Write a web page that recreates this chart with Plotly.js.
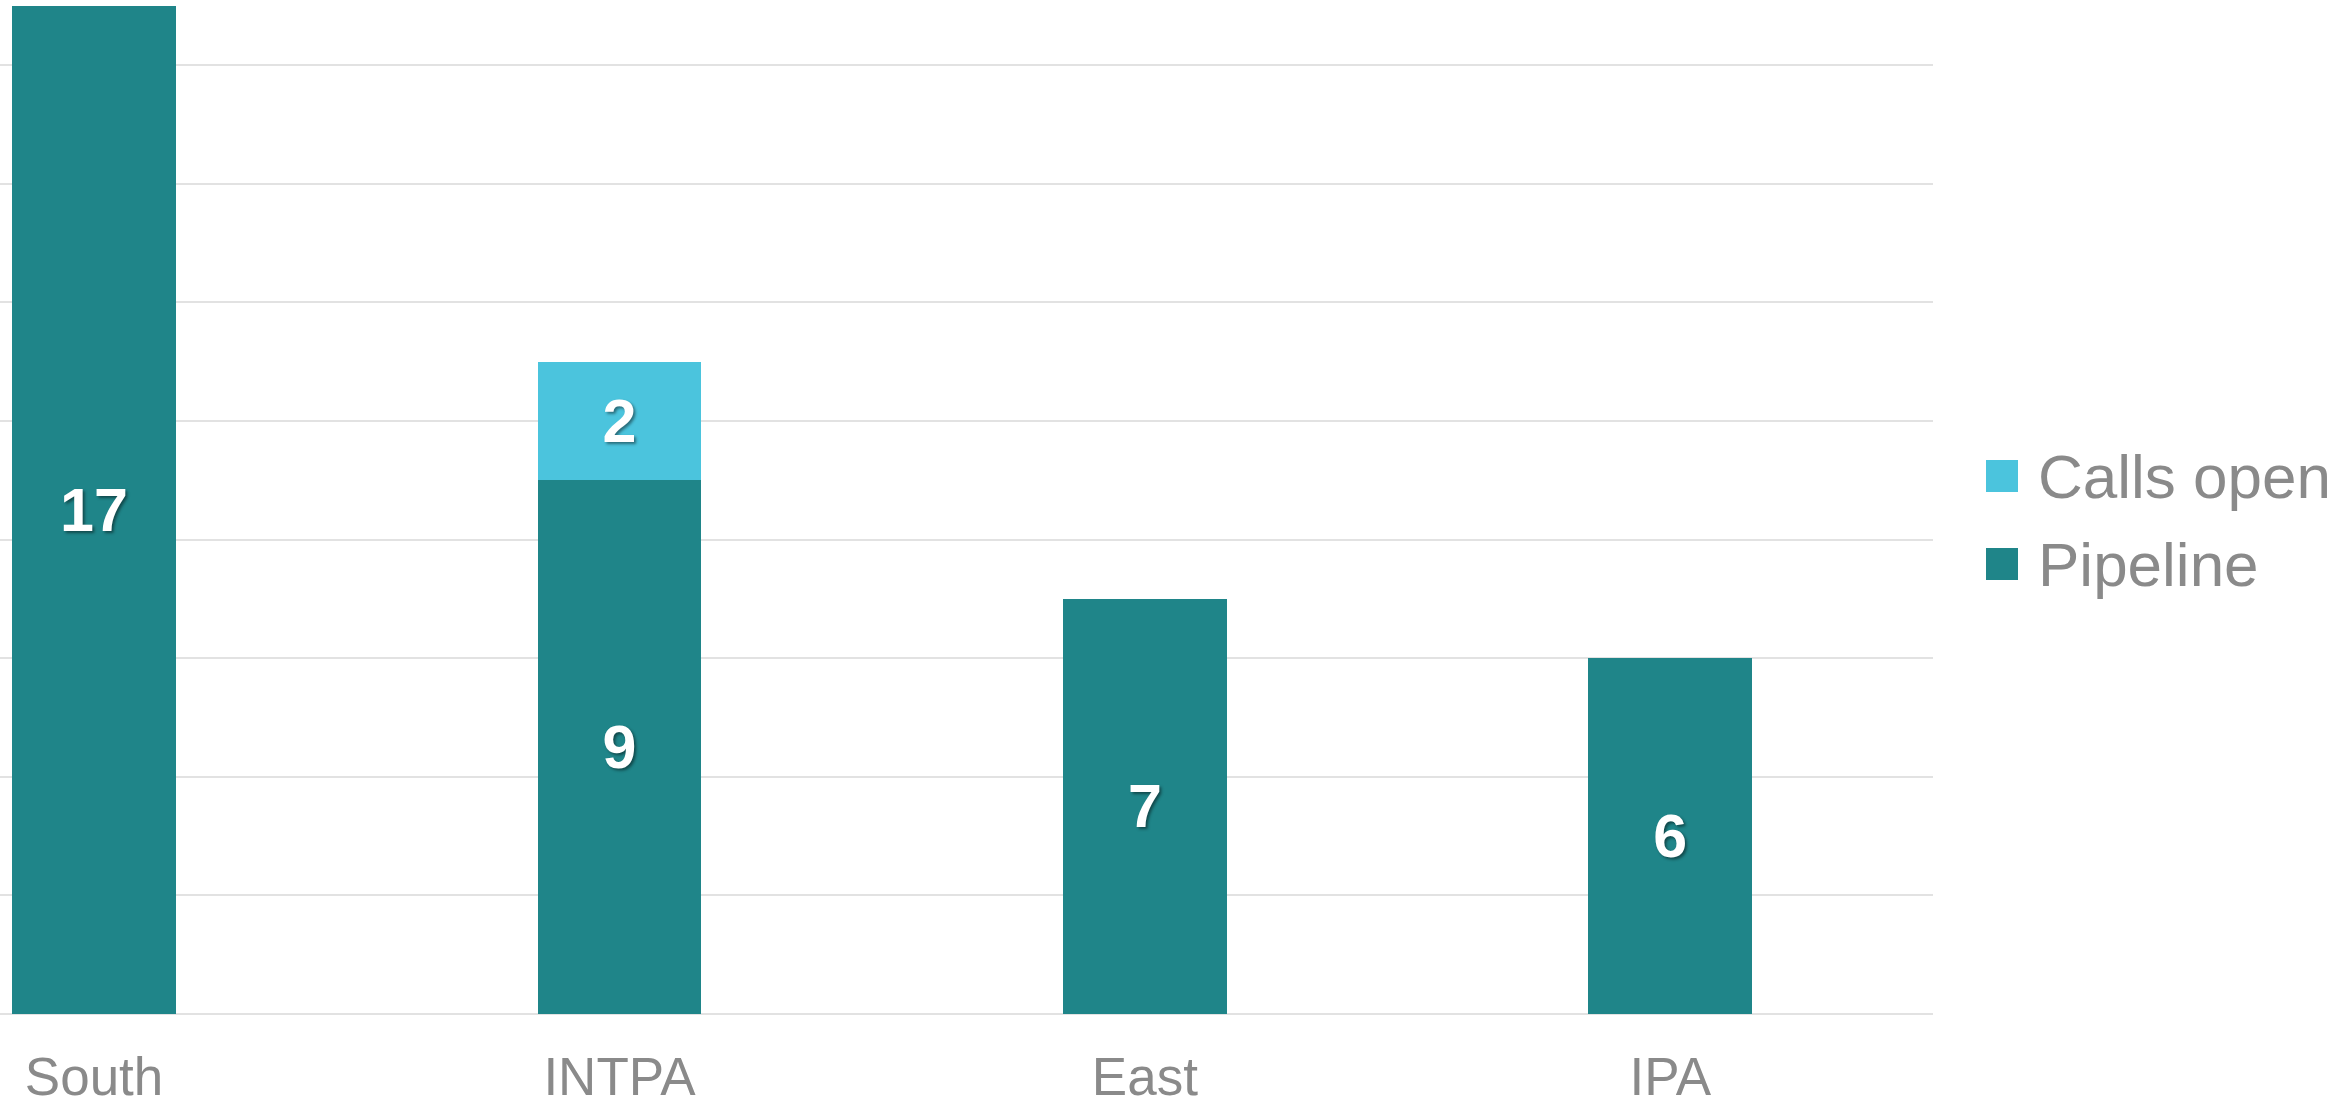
<!DOCTYPE html>
<html>
<head>
<meta charset="utf-8">
<script src="https://cdn.plot.ly/plotly-3.0.1.min.js"></script>
<style>html,body{margin:0;padding:0;background:#fff;}#chart{width:2346px;height:1102px;}</style>
</head>
<body>
<div id="chart"></div>
<script>
const categories = ["South", "INTPA", "East", "IPA"];
const seriesNames = ["Pipeline", "Calls open"];
const pipeline = [17, 9, 7, 6];
const callsOpen = [null, 2, null, null];
const seriesColors = ["#1F8589", "#4BC4DD"];

const W = 2346, H = 1102;
const plotLeft = 0, plotRight = 1933, plotTop = 6, plotBottom = 1014;
const pw = plotRight - plotLeft, ph = plotBottom - plotTop;
const px = x => (x - plotLeft) / pw;
const py = y => (plotBottom - y) / ph;

function labelText(arr){ return arr.map(v => v == null ? "" : String(v)); }

const labelFont = {family: "Liberation Sans, Arial, sans-serif", size: 61, color: "#ffffff", weight: 700, shadow: "2px 2px 3px rgba(0,0,0,0.45)"};

const traces = [
  {type: "bar", name: seriesNames[0], x: categories, y: pipeline, marker: {color: seriesColors[0]},
   text: labelText(pipeline), textposition: "inside", insidetextanchor: "middle", textangle: 0,
   textfont: labelFont, constraintext: "none", width: 0.312, hoverinfo: "skip"},
  {type: "bar", name: seriesNames[1], x: categories, y: callsOpen, marker: {color: seriesColors[1]},
   text: labelText(callsOpen), textposition: "inside", insidetextanchor: "middle", textangle: 0,
   textfont: labelFont, constraintext: "none", width: 0.312, hoverinfo: "skip"}
];

// custom legend (large square swatches), Calls open on top
const legendOrder = [1, 0];
const swatchTops = [460, 548];
const shapes = [], annotations = [];
legendOrder.forEach((si, i) => {
  const top = swatchTops[i];
  shapes.push({type: "rect", xref: "paper", yref: "paper",
    x0: px(1986), x1: px(2018), y0: py(top + 32), y1: py(top),
    fillcolor: seriesColors[si], line: {width: 0}});
  annotations.push({xref: "paper", yref: "paper", x: px(2036), y: py(top + 16),
    xanchor: "left", yanchor: "middle", showarrow: false, text: seriesNames[si],
    font: {family: "Liberation Sans, Arial, sans-serif", size: 62, color: "#8A8A8A"}});
});

const layout = {
  width: W, height: H,
  margin: {l: plotLeft, r: W - plotRight, t: plotTop, b: H - plotBottom, pad: 0},
  paper_bgcolor: "#ffffff", plot_bgcolor: "#ffffff",
  barmode: "stack",
  showlegend: false,
  font: {family: "Liberation Sans, Arial, sans-serif", color: "#8A8A8A"},
  xaxis: {type: "category", range: [-0.179, 3.5], showgrid: false, zeroline: false, showline: false,
    ticks: "outside", ticklen: 16, tickcolor: "rgba(0,0,0,0)",
    tickfont: {size: 53, color: "#8A8A8A", family: "Liberation Sans, Arial, sans-serif"}, fixedrange: true},
  yaxis: {range: [0, 17], dtick: 2, tick0: 0, showgrid: true, gridcolor: "#E2E2E2", gridwidth: 2,
    zeroline: true, zerolinecolor: "#E2E2E2", zerolinewidth: 2, showticklabels: false, showline: false, fixedrange: true},
  shapes: shapes,
  annotations: annotations
};

Plotly.newPlot("chart", traces, layout, {displayModeBar: false, staticPlot: true});
</script>
</body>
</html>
